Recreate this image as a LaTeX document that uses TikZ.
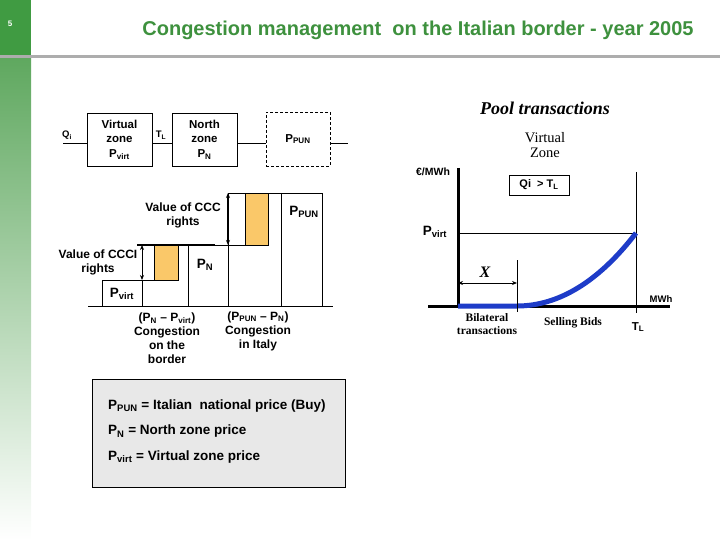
\documentclass[tikz,border=0pt]{standalone}
\usepackage{fontspec}
\setmainfont{Liberation Sans}
\newfontfamily\timesfont{Liberation Serif}
\usepackage{xcolor}
\usepackage{tikz}
\usetikzlibrary{arrows.meta}
\definecolor{titleGreen}{RGB}{62,145,62}
\definecolor{barGreen}{RGB}{64,155,66}
\definecolor{barLight}{RGB}{95,168,95}
\definecolor{orangeFill}{RGB}{250,200,105}
\definecolor{curveBlue}{RGB}{30,60,200}
\definecolor{legendGray}{RGB}{232,232,232}
\tikzset{
  zone_box/.style={draw=black, line width=0.8pt, minimum width=65pt, minimum height=53pt, inner sep=0pt, align=center, font=\fontsize{11.5}{14.5}\selectfont\bfseries},
  dashed_box/.style={zone_box, minimum width=64pt, minimum height=54pt, dash pattern=on 3pt off 2pt},
  chart_text/.style={inner sep=0pt, align=center, font=\fontsize{12}{14}\selectfont\bfseries},
  small_text/.style={inner sep=0pt, font=\fontsize{9.5}{10}\selectfont\bfseries},
  price_text/.style={inner sep=0pt, font=\fontsize{13.5}{15}\selectfont\bfseries},
  legend_text/.style={inner sep=0pt, align=left, font=\fontsize{13.5}{25.5}\selectfont\bfseries},
  serif_text/.style={inner sep=0pt, align=center, font=\timesfont\fontsize{11.5}{13}\selectfont\bfseries},
  edge/.style={line width=0.8pt},
  bold_edge/.style={line width=2pt},
  axis_edge/.style={line width=3pt},
  both_tips/.style={{Stealth[length=5pt,width=4pt]}-{Stealth[length=5pt,width=4pt]}},
  orange_box/.style={fill=orangeFill, draw=black, line width=0.8pt},
  blue_curve/.style={line width=5pt, draw=curveBlue}
}

\begin{document}
\begin{tikzpicture}[x=1pt, y=-1pt]
        \useasboundingbox (0,0) rectangle (720,540);
        % side bar and title
        \fill[barGreen] (0,0) rectangle (31,55);
        \shade[top color=barLight, bottom color=white] (0,58) rectangle (31,540);
        \draw[line width=2.5pt, draw=black!32] (0,56.5) -- (720,56.5);
        \node[text=white, font=\fontsize{8}{9}\selectfont\bfseries] (0) at (10,24) {5};
        \node[text=titleGreen, font=\fontsize{20}{22}\selectfont\bfseries] (50) at (418,30) {Congestion management\ \ on the Italian border - year 2005};
        % zones
        \node[zone_box] (1) at (119.5,139.5) {Virtual\\zone\\P\textsubscript{virt}};
        \node[zone_box] (2) at (204.5,139.5) {North\\zone\\P\textsubscript{N}};
        \node[dashed_box] (3) at (298,139) {P\textsubscript{PUN}};
        \coordinate (4) at (63,143);
        \coordinate (5) at (348,143);
        \node[small_text] (6) at (67,135) {Q\textsubscript{i}};
        \node[small_text] (7) at (161,135) {T\textsubscript{L}};
        \draw[edge] (4) -- (4 -| 1.west);
        \draw[edge] (4 -| 1.east) -- (4 -| 2.west);
        \draw[edge] (4 -| 2.east) -- (4 -| 3.west);
        \draw[edge] (4 -| 3.east) -- (5);
        % price steps
        \draw[edge] (88,306) -- (333,306);
        \draw[edge] (102,306) -- (102,280) -- (178,280);
        \draw[edge] (142,280) -- (142,306);
        \filldraw[orange_box] (154,245) rectangle (178,280);
        \draw[bold_edge] (137,245) -- (215,245);
        \draw[edge] (188,306) -- (188,245) -- (268,245);
        \draw[edge] (228,306) -- (228,193) -- (322,193) -- (322,306);
        \draw[edge] (281,193) -- (281,306);
        \filldraw[orange_box] (245,193) rectangle (268,245);
        \coordinate (8) at (142,245);
        \coordinate (9) at (142,280);
        \draw[edge, both_tips] (8) -- (9);
        \coordinate (10) at (228,193);
        \coordinate (11) at (228,245);
        \draw[bold_edge, both_tips] (10) -- (11);
        \node[chart_text] (12) at (98,262) {Value of CCCI\\rights};
        \node[chart_text] (13) at (183,215) {Value of CCC\\rights};
        \node[price_text] (14) at (122,294) {P\textsubscript{virt}};
        \node[price_text] (15) at (205,265) {P\textsubscript{N}};
        \node[price_text] (16) at (304,212) {P\textsubscript{PUN}};
        \node[chart_text] (17) at (167,338) {(P\textsubscript{N} -- P\textsubscript{virt})\\Congestion\\on the\\border};
        \node[chart_text] (18) at (258,331) {(P\textsubscript{PUN} -- P\textsubscript{N})\\Congestion\\in Italy};
        % legend
        \node[draw=black, fill=legendGray, line width=0.8pt, minimum width=253pt, minimum height=108pt] (19) at (218.5,433) {};
        \node[legend_text, anchor=west] (20) at (108,431.5) {P\textsubscript{PUN} = Italian\ \ national price (Buy)\\P\textsubscript{N} = North zone price\\P\textsubscript{virt} = Virtual zone price};
        % pool transactions
        \node[inner sep=0pt, font=\timesfont\fontsize{18}{20}\selectfont\bfseries\itshape] (21) at (545,108) {Pool transactions};
        \node[inner sep=0pt, align=center, font=\timesfont\fontsize{14.5}{15}\selectfont] (22) at (545,145) {Virtual\\Zone};
        \node[chart_text, font=\fontsize{10.5}{12}\selectfont\bfseries] (23) at (433,172) {€/MWh};
        \coordinate (24) at (458,168);
        \coordinate (25) at (458,307);
        \draw[axis_edge] (24) -- (25);
        \coordinate (26) at (428,306);
        \coordinate (27) at (670,306);
        \draw[axis_edge] (26) -- (27);
        \node[small_text] (28) at (661,299) {MWh};
        \node[draw=black, line width=0.8pt, minimum width=60pt, minimum height=20pt, font=\fontsize{11}{12}\selectfont\bfseries] (29) at (539,185) {Qi\ \ > T\textsubscript{L}};
        \coordinate (30) at (636,172);
        \coordinate (31) at (636,313);
        \draw[edge] (30) -- (31);
        \node[price_text] (32) at (435,232) {P\textsubscript{virt}};
        \coordinate (33) at (458,233);
        \coordinate (34) at (636,233);
        \draw[edge] (33) -- (34);
        \coordinate (35) at (517,306);
        \draw[blue_curve] (458,306) -- (35) .. controls (560,306) and (600,280) .. (34);
        \coordinate (36) at (517,260);
        \coordinate (37) at (517,312);
        \draw[edge] (36) -- (37);
        \coordinate (38) at (458,283);
        \coordinate (39) at (517,283);
        \draw[edge, both_tips] (38) -- (39);
        \node[inner sep=0pt, font=\timesfont\fontsize{16}{16}\selectfont\bfseries\itshape] (40) at (485,272) {X};
        \node[serif_text] (41) at (487,324) {Bilateral\\transactions};
        \node[serif_text] (42) at (573,323) {Selling Bids};
        \node[inner sep=0pt, font=\fontsize{11.5}{12}\selectfont\bfseries] (43) at (638,327) {T\textsubscript{L}};
    \end{tikzpicture}
\end{document}
